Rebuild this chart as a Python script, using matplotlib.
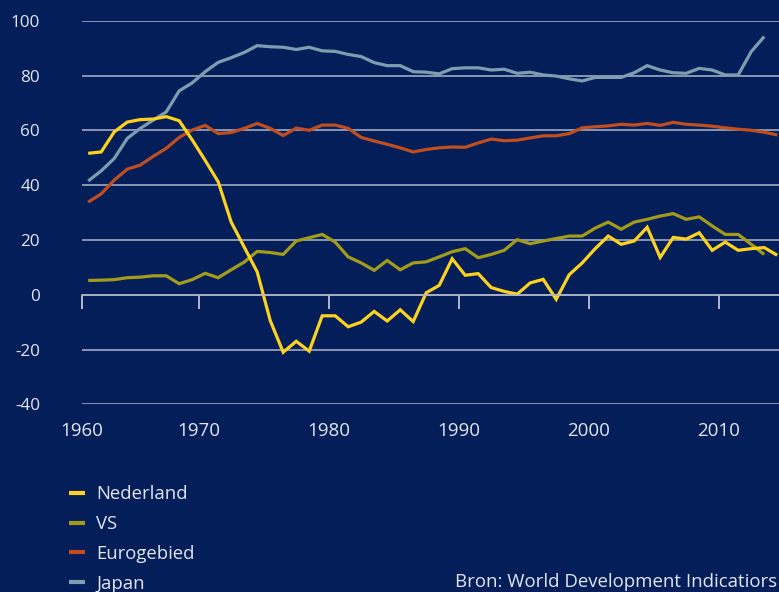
import numpy as np
import matplotlib
matplotlib.use("Agg")
import matplotlib.pyplot as plt

# data (1961-2014)
years = np.arange(1961, 2015)

nederland = [51.6, 52.1, 59.4, 63.0, 63.9, 64.1, 65.0, 63.5, 56.5, 49.0,
             41.2, 26.5, 17.4, 8.3, -9.4, -21.0, -17.0, -20.6, -7.7, -7.7,
             -11.7, -10.0, -6.1, -9.6, -5.5, -9.8, 0.7, 3.4, 13.1, 7.1,
             7.7, 2.6, 1.2, 0.2, 4.3, 5.6, -1.7, 7.3, 11.6, 16.8,
             21.4, 18.4, 19.6, 24.6, 13.6, 20.9, 20.3, 22.6, 16.2, 19.2,
             16.2, 16.8, 17.2, 14.4]

vs = [5.2, 5.3, 5.5, 6.2, 6.4, 6.9, 6.9, 4.0, 5.5, 7.8,
      6.2, 9.1, 11.9, 15.8, 15.4, 14.7, 19.6, 20.8, 22.0, 19.2,
      13.8, 11.6, 8.9, 12.5, 9.1, 11.6, 12.0, 13.8, 15.7, 16.8,
      13.5, 14.7, 16.2, 20.1, 18.6, 19.6, 20.5, 21.4, 21.4, 24.3,
      26.5, 23.9, 26.5, 27.5, 28.7, 29.6, 27.5, 28.4, 25.1, 22.0,
      22.0, 18.4, 14.7, np.nan]

eurogebied = [33.8, 36.8, 41.8, 45.8, 47.3, 50.5, 53.4, 57.4, 60.1, 61.8,
              58.8, 59.2, 60.7, 62.5, 60.7, 58.1, 60.8, 60.0, 61.9, 61.9,
              60.7, 57.4, 56.1, 54.9, 53.6, 52.1, 53.0, 53.6, 53.9, 53.8,
              55.4, 56.8, 56.2, 56.4, 57.2, 58.0, 58.0, 58.8, 60.9, 61.3,
              61.6, 62.2, 61.9, 62.5, 61.8, 62.9, 62.2, 61.9, 61.5, 60.9,
              60.4, 60.0, 59.3, 58.3]

japan = [41.5, 45.2, 49.7, 57.0, 60.7, 63.7, 66.7, 74.4, 77.3, 81.4,
         84.8, 86.5, 88.4, 90.9, 90.5, 90.3, 89.5, 90.3, 89.0, 88.8,
         87.7, 86.9, 84.7, 83.6, 83.6, 81.4, 81.2, 80.6, 82.5, 82.8,
         82.8, 82.0, 82.3, 80.8, 81.2, 80.2, 79.8, 78.8, 78.0, 79.3,
         79.3, 79.3, 81.0, 83.6, 82.0, 81.0, 80.8, 82.6, 82.0, 80.2,
         80.2, 88.7, 94.2, np.nan]

labels = ["Nederland", "VS", "Eurogebied", "Japan"]
colors = ["#FDD21E", "#A29C1A", "#C14E1E", "#7D9DB1"]

x_ticks = [1960.5, 1969.5, 1979.5, 1989.5, 1999.5, 2009.5]
x_labels = ["1960", "1970", "1980", "1990", "2000", "2010"]
y_ticks = [-40, -20, 0, 20, 40, 60, 80, 100]

bg = "#041E5A"
grid_col = "#AEB4C9"
text_col = "#E3E6EF"

plt.rcParams["font.family"] = ["Open Sans", "DejaVu Sans"]
plt.rcParams["axes.unicode_minus"] = False

fig = plt.figure(figsize=(7.79, 5.92), dpi=100, facecolor=bg)
ax = fig.add_axes([81.7 / 779, 187.7 / 592, 702 / 779, 383.6 / 592])
ax.set_facecolor(bg)

series = [nederland, vs, eurogebied, japan]
# draw back to front, Nederland on top
for vals, lab, col in reversed(list(zip(series, labels, colors))):
    ax.plot(years, vals, color=col, lw=2.3, label=lab,
            solid_joinstyle="miter", solid_capstyle="butt")

ax.set_xlim(1960.5, 2014.5)
ax.set_ylim(-40, 100)
ax.set_yticks(y_ticks)
ax.yaxis.grid(True, color=grid_col, lw=1.1)
ax.set_axisbelow(True)
ax.tick_params(axis="y", length=0, pad=30, labelsize=12.3, labelcolor=text_col)

for s in ["top", "right", "left"]:
    ax.spines[s].set_visible(False)
ax.spines["bottom"].set_position(("data", 0))
ax.spines["bottom"].set_color(grid_col)
ax.spines["bottom"].set_linewidth(1.1)
ax.set_xticks(x_ticks)
ax.tick_params(axis="x", direction="out", length=10, width=1.1,
               color="#DDE1EC", labelbottom=False)

sec = ax.secondary_xaxis("bottom")
sec.set_xticks(x_ticks)
sec.set_xticklabels(x_labels)
sec.tick_params(length=0, pad=13, labelsize=13.5, labelcolor=text_col)
sec.spines["bottom"].set_visible(False)

handles, labs = ax.get_legend_handles_labels()
order = [labs.index(l) for l in labels]
leg = fig.legend([handles[i] for i in order], labels,
                 loc="upper left", bbox_to_anchor=(60 / 779, 1 - 476 / 592),
                 frameon=False, fontsize=13.3, handlelength=0.85,
                 handletextpad=0.62, labelspacing=0.64, borderpad=0)
for t in leg.get_texts():
    t.set_color(text_col)
for h in leg.get_lines():
    h.set_linewidth(3)

fig.text(777 / 779, 1 - 582 / 592, "Bron: World Development Indicatiors",
         ha="right", va="center", fontsize=13.4, color=text_col)

fig.savefig("out.png", dpi=100, facecolor=bg)
